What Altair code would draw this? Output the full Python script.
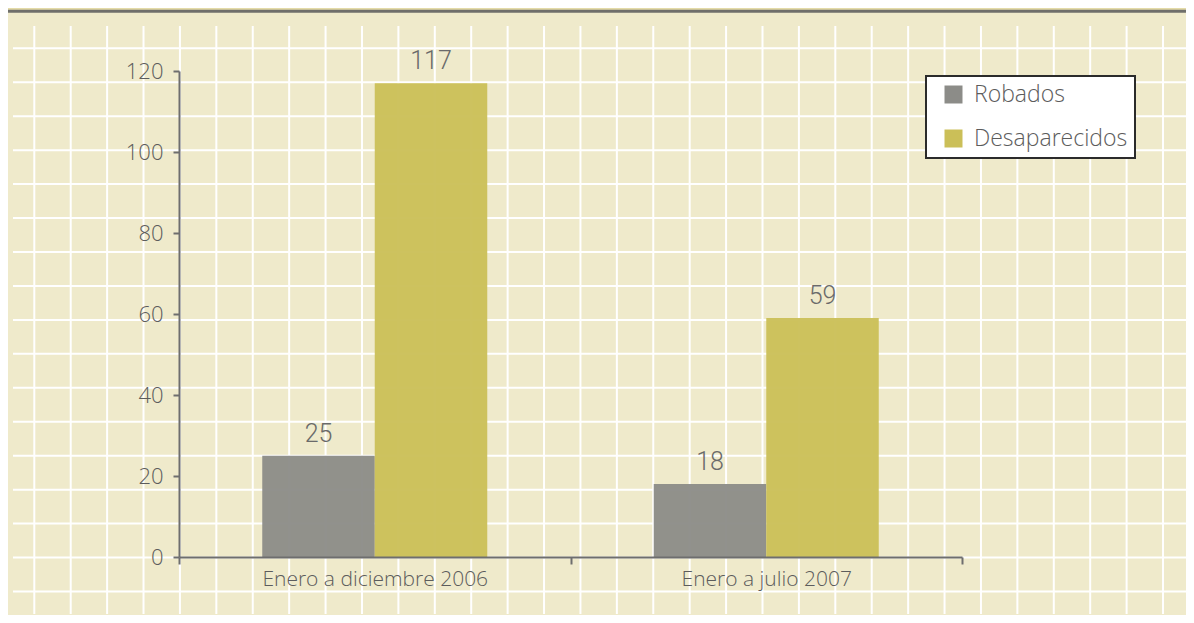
import altair as alt
import numpy as np
import pandas as pd

# ---- data ----
periods = ["Enero a diciembre 2006", "Enero a julio 2007"]
series = ["Robados", "Desaparecidos"]
robados = [25, 18]
desaparecidos = [117, 59]
y_ticks = [0, 20, 40, 60, 80, 100, 120]

rows = []
for i, p in enumerate(periods):
    rows.append({"periodo": p, "tipo": series[0], "valor": robados[i]})
    rows.append({"periodo": p, "tipo": series[1], "valor": desaparecidos[i]})
df = pd.DataFrame(rows)

# ---- styling constants ----
W, H = 783, 486
PAD = {"left": 171, "top": 63, "right": 224, "bottom": 58}
PAPER = "#efeacb"
OUTER = "#e4dba8"
AXIS = "#6e6e6e"
TEXT = "#5c5c5c"
FONT = "Open Sans"
NUM_FONT = "Roboto"
COLORS = ["#8c8c88", "#cbbf58"]

# ---- decorative graph-paper background (pixel space, no scale) ----
vx = -144.7 + 36.41 * np.arange(32)
hy = -22.7 + 33.95 * np.arange(17)
vgrid = pd.DataFrame({"gx": vx})
hgrid = pd.DataFrame({"gy": hy})

panel = alt.Chart(pd.DataFrame({"a": [0]})).mark_rect(color=PAPER).encode(
    x=alt.value(-171), x2=alt.value(1007), y=alt.value(-61), y2=alt.value(544)
)
topline = alt.Chart(pd.DataFrame({"a": [0]})).mark_rule(color="#6f6f6b", strokeWidth=3).encode(
    x=alt.value(-171), x2=alt.value(1007), y=alt.value(-59.7)
)
vlines = alt.Chart(vgrid).mark_rule(color="white", strokeWidth=2).encode(
    x=alt.X("gx:Q", scale=None), y=alt.value(-45), y2=alt.value(543)
)
hlines = alt.Chart(hgrid).mark_rule(color="white", strokeWidth=2).encode(
    y=alt.Y("gy:Q", scale=None), x=alt.value(-166), x2=alt.value(1011)
)
background = alt.layer(panel, hlines, vlines, topline)

# ---- bars ----
x_enc = alt.X(
    "periodo:N",
    sort=periods,
    scale=alt.Scale(paddingInner=0, paddingOuter=0),
    axis=alt.Axis(
        title=None, labelAngle=0, tickBand="extent", domainColor=AXIS, domainWidth=2,
        tickColor=AXIS, tickWidth=2, tickSize=7, labelFont=FONT, labelFontWeight=300,
        labelFontSize=21, labelColor=TEXT, labelPadding=4, labelLimit=500, grid=False,
        zindex=1,
    ),
)
xoff = alt.XOffset("tipo:N", sort=series, scale=alt.Scale(paddingOuter=0.74, paddingInner=0))
y_enc = alt.Y(
    "valor:Q",
    scale=alt.Scale(domain=[0, 120], nice=False),
    axis=alt.Axis(
        title=None, values=y_ticks, domainColor=AXIS, domainWidth=2, tickColor=AXIS,
        tickWidth=2, tickSize=6, labelFont=FONT, labelFontWeight=300, labelFontSize=22,
        labelColor=TEXT, labelPadding=10, grid=False, zindex=1,
    ),
)

bars = alt.Chart(df).mark_bar(opacity=0.96).encode(
    x=x_enc,
    xOffset=xoff,
    y=y_enc,
    color=alt.Color(
        "tipo:N",
        sort=series,
        scale=alt.Scale(domain=series, range=COLORS),
        legend=alt.Legend(
            title=None, orient="none", legendX=747, legendY=5, padding=7,
            fillColor="white", strokeColor="#2b2b2b", symbolType="square",
            symbolSize=324, symbolOffset=9, symbolStrokeWidth=0, symbolOpacity=1,
            labelFont=FONT, labelFontWeight=300, labelFontSize=23, labelColor=TEXT,
            labelOffset=9, rowPadding=20,
        ),
    ),
)

labels = alt.Chart(df).mark_text(
    baseline="alphabetic", dy=-14, font=NUM_FONT, fontWeight=300, fontSize=25,
    color="#6a6a6a"
).encode(
    x=alt.X("periodo:N", sort=periods),
    xOffset=alt.XOffset("tipo:N", sort=series),
    y=alt.Y("valor:Q"),
    text=alt.Text("valor:Q"),
)

chart = (
    alt.layer(background, bars + labels)
    .resolve_scale(x="independent", y="independent")
    .properties(width=W, height=H, autosize=alt.AutoSizeParams(type="none"), padding=PAD)
    .configure(background=OUTER)
    .configure_view(stroke=None)
    .configure_legend(strokeWidth=2)
)

chart.save("out.html", embed_options={"renderer": "svg", "actions": False})
